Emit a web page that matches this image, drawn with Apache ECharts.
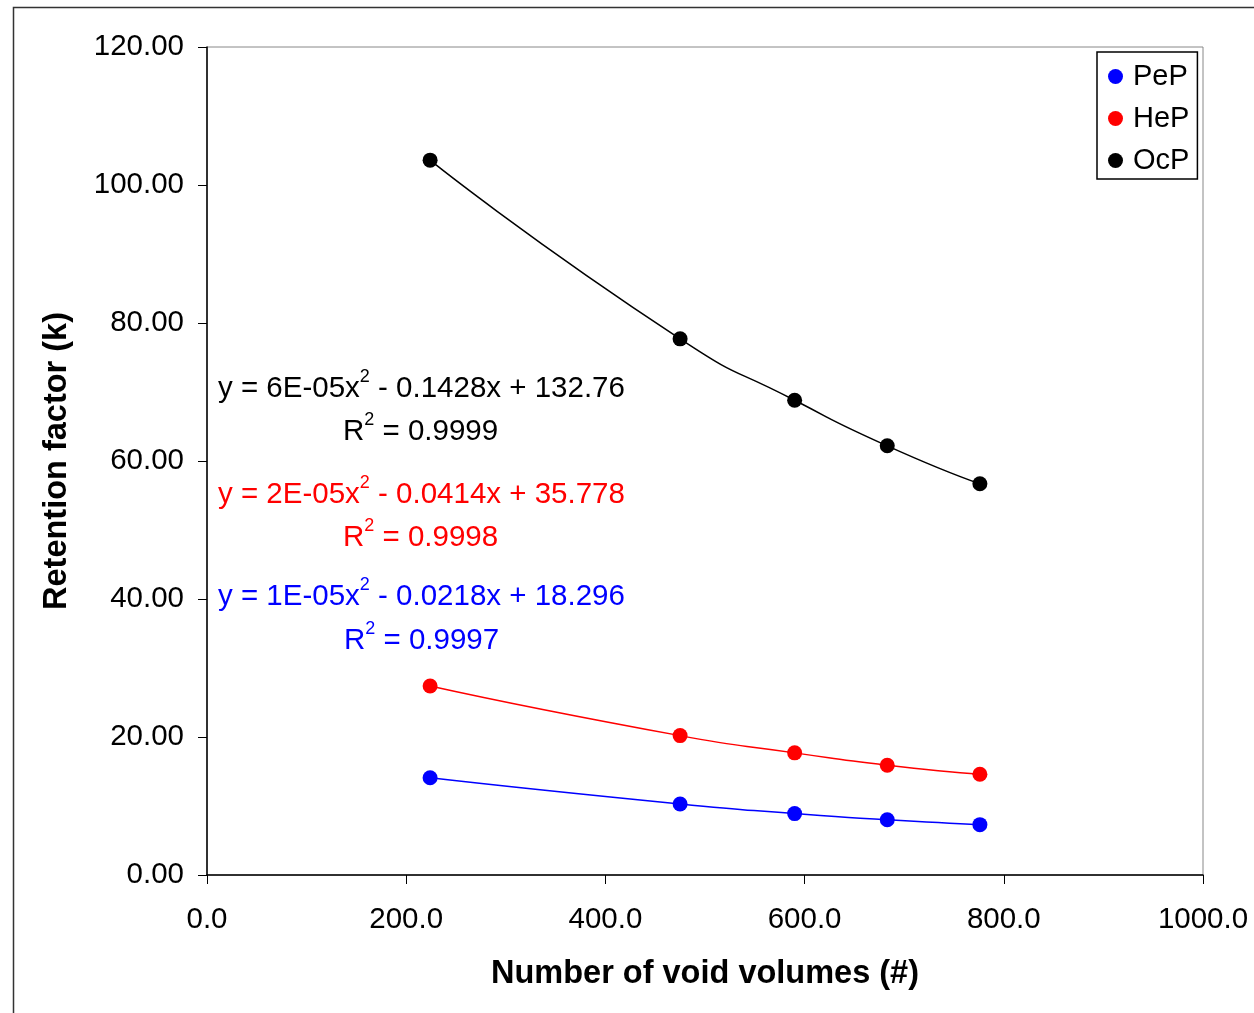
<!DOCTYPE html>
<html>
<head>
<meta charset="utf-8">
<script src="https://cdn.jsdelivr.net/npm/echarts@6/dist/echarts.min.js"></script>
<style>
html,body{margin:0;padding:0;background:#fff;}
#chart{width:1254px;height:1013px;}
</style>
</head>
<body>
<div id="chart"></div>
<script>
// Data
const xValues = [224, 475, 590, 683, 776];
const pepValues = [14.1, 10.3, 8.9, 8.0, 7.3];
const hepValues = [27.4, 20.2, 17.7, 15.9, 14.6];
const ocpValues = [103.6, 77.7, 68.8, 62.2, 56.7];
const seriesNames = ['PeP', 'HeP', 'OcP'];
const seriesColors = ['#0000ff', '#ff0000', '#000000'];
// equation text per series (PeP, HeP, OcP)
const eqLeft = ['y = 1E-05x', 'y = 2E-05x', 'y = 6E-05x'];
const eqRight = [' - 0.0218x + 18.296', ' - 0.0414x + 35.778', ' - 0.1428x + 132.76'];
const rSquared = ['0.9997', '0.9998', '0.9999'];
const xTicks = {min: 0, max: 1000, interval: 200};
const yTicks = {min: 0, max: 120, interval: 20};

const FONT = '"Liberation Sans", Arial, sans-serif';
const chart = echarts.init(document.getElementById('chart'), null, {renderer: 'canvas'});

function pairs(ys) { return xValues.map((x, i) => [x, ys[i]]); }
const allValues = [pepValues, hepValues, ocpValues];

const series = seriesNames.map((name, i) => ({
  name: name,
  type: 'line',
  data: pairs(allValues[i]),
  smooth: 0.6,
  symbol: 'circle',
  symbolSize: 15,
  showSymbol: true,
  itemStyle: {color: seriesColors[i]},
  lineStyle: {color: seriesColors[i], width: 1.5},
  z: 3 - i
}));

// Equation label placement (PeP, HeP, OcP)
const eqPos = [
  {x: 218, y1: 596, x2: 344, y2: 640},
  {x: 218, y1: 494, x2: 343, y2: 537},
  {x: 218, y1: 388, x2: 343, y2: 431}
];
const graphics = [];
seriesNames.forEach((n, si) => {
  const color = seriesColors[si];
  const p = eqPos[si];
  const rich = {
    a: {fontSize: 29.5, fontFamily: FONT, fill: color, color: color, verticalAlign: 'bottom', lineHeight: 36},
    s: {fontSize: 18, fontFamily: FONT, fill: color, color: color, verticalAlign: 'top', lineHeight: 36, padding: [0, 0, 16, 0]}
  };
  graphics.push({
    type: 'text', left: p.x, top: p.y1 - 20, z: 10,
    style: {text: '{a|' + eqLeft[si] + '}{s|2}{a|' + eqRight[si] + '}', rich: rich, fill: color}
  });
  graphics.push({
    type: 'text', left: p.x2, top: p.y2 - 20, z: 10,
    style: {text: '{a|R}{s|2}{a| = ' + rSquared[si] + '}', rich: rich, fill: color}
  });
});
// outer border
graphics.push({
  type: 'rect', left: 11, top: 5, z: 0,
  shape: {width: 1260, height: 1020},
  style: {fill: 'none', stroke: '#333', lineWidth: 1.5}
});

const option = {
  backgroundColor: '#fff',
  animation: false,
  textStyle: {fontFamily: FONT},
  grid: {left: 207, top: 47, right: 51, bottom: 138, show: true, borderColor: '#888', borderWidth: 1, backgroundColor: 'transparent'},
  legend: {
    show: true,
    data: seriesNames,
    orient: 'vertical',
    left: 1097, top: 52,
    icon: 'circle',
    itemWidth: 15, itemHeight: 15,
    itemGap: 13,
    padding: [10, 8, 4, 11],
    borderColor: '#000', borderWidth: 1.5,
    backgroundColor: '#fff',
    textStyle: {fontSize: 29, fontFamily: FONT, color: '#000', padding: [0, 0, 0, 5]}
  },
  xAxis: {
    type: 'value', min: xTicks.min, max: xTicks.max, interval: xTicks.interval,
    name: 'Number of void volumes (#)',
    nameLocation: 'middle', nameGap: 83,
    nameTextStyle: {fontSize: 32.5, fontWeight: 'bold', color: '#000', fontFamily: FONT},
    axisLine: {show: true, onZero: false, lineStyle: {color: '#000', width: 1.5}},
    axisTick: {show: true, inside: false, length: 9, lineStyle: {color: '#000', width: 1}},
    axisLabel: {fontSize: 29.5, color: '#000', margin: 30, fontFamily: FONT, formatter: v => v.toFixed(1)},
    splitLine: {show: false}
  },
  yAxis: {
    type: 'value', min: yTicks.min, max: yTicks.max, interval: yTicks.interval,
    name: 'Retention factor (k)',
    nameLocation: 'middle', nameGap: 133,
    nameTextStyle: {fontSize: 32.5, fontWeight: 'bold', color: '#000', fontFamily: FONT},
    axisLine: {show: true, onZero: false, lineStyle: {color: '#000', width: 1.5}},
    axisTick: {show: true, inside: false, length: 9, lineStyle: {color: '#000', width: 1}},
    axisLabel: {fontSize: 29.5, color: '#000', margin: 23, fontFamily: FONT, formatter: v => v.toFixed(2)},
    splitLine: {show: false}
  },
  graphic: graphics,
  series: series
};
chart.setOption(option);
</script>
</body>
</html>
